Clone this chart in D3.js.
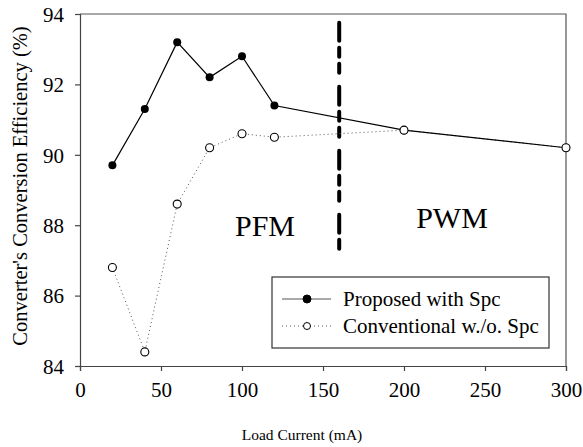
<!DOCTYPE html>
<html>
<head>
<meta charset="utf-8">
<script src="https://cdn.jsdelivr.net/npm/d3@7/dist/d3.min.js"></script>
<style>
  body { margin: 0; background: #fff; }
</style>
</head>
<body>
<div id="chart"></div>
<script>
const loadCurrent = [20, 40, 60, 80, 100, 120, 200, 300]
const proposed = [89.7, 91.3, 93.2, 92.2, 92.8, 91.4, 90.7, 90.2]
const conventional = [86.8, 84.4, 88.6, 90.2, 90.6, 90.5, 90.7, 90.2]
const xTicks = [0, 50, 100, 150, 200, 250, 300]
const yTicks = [84, 86, 88, 90, 92, 94]
const boundaryX = 160
const boundaryY = [93.75, 87.25]
const seriesNames = ['Proposed with Spc', 'Conventional w./o. Spc']

const width = 583
const height = 447
const margin = { top: 14, right: 17, bottom: 81, left: 80 }
const serif = 'Liberation Serif'

const svg = d3
  .select('#chart')
  .append('svg')
  .attr('width', width)
  .attr('height', height)
  .attr('font-family', serif)

const x = d3.scaleLinear().domain([0, 300]).range([margin.left, width - margin.right])
const y = d3.scaleLinear().domain([84, 94]).range([height - margin.bottom, margin.top])

// frame (top + right)
svg
  .append('path')
  .attr('d', `M${x(0)},${y(94)}H${x(300)}V${y(84)}`)
  .attr('fill', 'none')
  .attr('stroke', '#555')
  .attr('stroke-width', 1.2)

const xAxis = svg
  .append('g')
  .attr('transform', `translate(0,${y(84)})`)
  .call(d3.axisBottom(x).tickValues(xTicks).tickSize(5).tickPadding(6))
const yAxis = svg
  .append('g')
  .attr('transform', `translate(${x(0)},0)`)
  .call(d3.axisLeft(y).tickValues(yTicks).tickSize(5).tickPadding(11))

;[xAxis, yAxis].forEach((g) => {
  g.attr('font-family', serif).attr('font-size', 21)
  g.select('.domain').attr('stroke', '#444').attr('stroke-width', 1.2)
  g.selectAll('.tick line').attr('stroke', '#444').attr('stroke-width', 1.2)
  g.selectAll('.tick text').attr('fill', '#000')
})
xAxis.selectAll('.tick text').attr('dy', '0.95em')
yAxis.selectAll('.tick text').attr('dy', '0.35em')

svg
  .append('text')
  .attr('x', 302)
  .attr('y', 440)
  .attr('text-anchor', 'middle')
  .attr('font-size', 15.5)
  .text('Load Current (mA)')

svg
  .append('text')
  .attr('transform', 'translate(27,186) rotate(-90)')
  .attr('text-anchor', 'middle')
  .attr('font-size', 20.5)
  .text("Converter's Conversion Efficiency (%)")

// PFM / PWM boundary
svg
  .append('line')
  .attr('x1', x(boundaryX))
  .attr('x2', x(boundaryX))
  .attr('y1', y(boundaryY[0]))
  .attr('y2', y(boundaryY[1]))
  .attr('stroke', '#000')
  .attr('stroke-width', 4)
  .attr('stroke-linecap', 'round')
  .attr('stroke-dasharray', '18,7,9,7,9,14')

svg
  .append('text')
  .attr('x', 265)
  .attr('y', 236)
  .attr('text-anchor', 'middle')
  .attr('font-size', 30)
  .text('PFM')
svg
  .append('text')
  .attr('x', 452)
  .attr('y', 228)
  .attr('text-anchor', 'middle')
  .attr('font-size', 30)
  .text('PWM')

const line = d3
  .line()
  .x((d) => x(d[0]))
  .y((d) => y(d[1]))

const convData = loadCurrent.map((c, i) => [c, conventional[i]])
const propData = loadCurrent.map((c, i) => [c, proposed[i]])

svg
  .append('path')
  .datum(convData)
  .attr('d', line)
  .attr('fill', 'none')
  .attr('stroke', '#555')
  .attr('stroke-width', 1)
  .attr('stroke-dasharray', '1,3')

svg
  .append('path')
  .datum(propData)
  .attr('d', line)
  .attr('fill', 'none')
  .attr('stroke', '#000')
  .attr('stroke-width', 1.2)

svg
  .selectAll('.prop')
  .data(propData)
  .enter()
  .append('circle')
  .attr('class', 'prop')
  .attr('cx', (d) => x(d[0]))
  .attr('cy', (d) => y(d[1]))
  .attr('r', 4)
  .attr('fill', '#000')

svg
  .selectAll('.conv')
  .data(convData)
  .enter()
  .append('circle')
  .attr('class', 'conv')
  .attr('cx', (d) => x(d[0]))
  .attr('cy', (d) => y(d[1]))
  .attr('r', 4)
  .attr('fill', '#fff')
  .attr('stroke', '#000')
  .attr('stroke-width', 1.1)

// legend
const legend = svg.append('g').attr('transform', 'translate(272,277)')
legend
  .append('rect')
  .attr('width', 277)
  .attr('height', 71)
  .attr('fill', '#fff')
  .attr('stroke', '#333')
  .attr('stroke-width', 1.2)

seriesNames.forEach((name, i) => {
  const row = legend.append('g').attr('transform', `translate(0,${22 + i * 27})`)
  row
    .append('line')
    .attr('x1', 10)
    .attr('x2', 59)
    .attr('stroke', '#555')
    .attr('stroke-width', i === 0 ? 1.2 : 1)
    .attr('stroke-dasharray', i === 0 ? null : '1,3')
  row
    .append('circle')
    .attr('cx', 35)
    .attr('r', i === 0 ? 4 : 3.5)
    .attr('fill', i === 0 ? '#000' : '#fff')
    .attr('stroke', '#000')
    .attr('stroke-width', 1)
  row
    .append('text')
    .attr('x', 71)
    .attr('y', 7)
    .attr('font-size', 21)
    .text(name)
})
</script>
</body>
</html>
